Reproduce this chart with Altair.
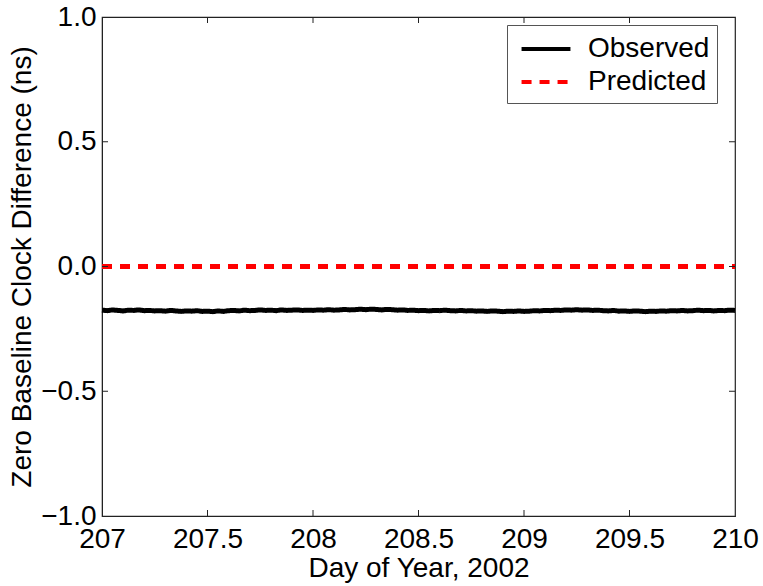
import altair as alt
import pandas as pd

# ---- data ----
day_start = 207.0
day_step = 0.025
observed_ns = [
    -0.175, -0.177, -0.174, -0.176, -0.178, -0.175, -0.176, -0.174, -0.177, -0.176,
    -0.178, -0.177, -0.179, -0.176, -0.178, -0.180, -0.178, -0.179, -0.177, -0.180,
    -0.179, -0.181, -0.178, -0.180, -0.177, -0.176, -0.178, -0.175, -0.177, -0.176,
    -0.174, -0.176, -0.175, -0.177, -0.174, -0.176, -0.175, -0.174, -0.176, -0.175,
    -0.176, -0.174, -0.175, -0.173, -0.175, -0.174, -0.172, -0.174, -0.173, -0.171,
    -0.173, -0.171, -0.172, -0.174, -0.172, -0.173, -0.175, -0.174, -0.176, -0.175,
    -0.177, -0.176, -0.178, -0.176, -0.177, -0.175, -0.177, -0.178, -0.176, -0.178,
    -0.177, -0.179, -0.178, -0.180, -0.178, -0.179, -0.181, -0.179, -0.180, -0.178,
    -0.180, -0.179, -0.177, -0.178, -0.176, -0.177, -0.175, -0.176, -0.174, -0.175,
    -0.173, -0.175, -0.174, -0.176, -0.175, -0.177, -0.178, -0.176, -0.179, -0.178,
    -0.180, -0.178, -0.179, -0.181, -0.179, -0.180, -0.178, -0.179, -0.177, -0.178,
    -0.176, -0.178, -0.177, -0.175, -0.177, -0.176, -0.178, -0.176, -0.177, -0.175,
    -0.176,
]
observed_days = [round(day_start + i * day_step, 3) for i in range(len(observed_ns))]
predicted_days = [207.0, 210.0]
predicted_ns = [0.0, 0.0]
series_names = ["Observed", "Predicted"]
x_ticks = [207, 207.5, 208, 208.5, 209, 209.5, 210]
y_ticks = [-1.0, -0.5, 0.0, 0.5, 1.0]
x_inner_ticks = [207.5, 208, 208.5, 209, 209.5]
y_inner_ticks = [-0.5, 0.0, 0.5]

df = pd.concat([
    pd.DataFrame({"day": observed_days, "value": observed_ns, "series": "Observed"}),
    pd.DataFrame({"day": predicted_days, "value": predicted_ns, "series": "Predicted"}),
])
xt = pd.DataFrame({"day": x_inner_ticks})
yt = pd.DataFrame({"value": y_inner_ticks})

W, H = 633, 499
FONT = "Liberation Sans"
FS = 28

xscale = alt.Scale(domain=[207, 210], nice=False, zero=False)
yscale = alt.Scale(domain=[-1, 1], nice=False, zero=False)


def make_legend():
    return alt.Legend(orient="none", legendX=405, legendY=8,
                      symbolType="M-1.63,0L1.63,0", symbolSize=900,
                      symbolStrokeWidth=4, labelFontSize=FS,
                      labelFont=FONT, labelOffset=25, symbolOffset=15,
                      rowPadding=2, padding=7,
                      strokeColor="#555", fillColor="white",
                      labelColor="black")


lines = alt.Chart(df).mark_line(strokeWidth=5).encode(
    x=alt.X("day:Q", scale=xscale, title="Day of Year, 2002",
            axis=alt.Axis(values=x_ticks, format="~f", tickSize=0, labelFlush=False,
                          labelOverlap=False, labelPadding=9, titlePadding=1,
                          grid=False, domainColor="#222")),
    y=alt.Y("value:Q", scale=yscale, title="Zero Baseline Clock Difference (ns)",
            axis=alt.Axis(values=y_ticks, format=".1f", tickSize=0, labelFlush=False,
                          labelOverlap=False, labelPadding=6, titlePadding=4,
                          grid=False, domainColor="#222")),
    color=alt.Color("series:N", title=None,
                    scale=alt.Scale(domain=series_names, range=["#000000", "#ff0000"]),
                    legend=make_legend()),
    strokeDash=alt.StrokeDash("series:N", title=None,
                              scale=alt.Scale(domain=series_names, range=[[1, 0], [10, 8]]),
                              legend=make_legend()),
)

tick_len = 6
xticks_bottom = alt.Chart(xt).mark_rule(color="#222", strokeWidth=1).encode(
    x=alt.X("day:Q", scale=xscale), y=alt.value(H), y2=alt.value(H - tick_len))
xticks_top = alt.Chart(xt).mark_rule(color="#222", strokeWidth=1).encode(
    x=alt.X("day:Q", scale=xscale), y=alt.value(0), y2=alt.value(tick_len))
yticks_left = alt.Chart(yt).mark_rule(color="#222", strokeWidth=1).encode(
    y=alt.Y("value:Q", scale=yscale), x=alt.value(0), x2=alt.value(tick_len))
yticks_right = alt.Chart(yt).mark_rule(color="#222", strokeWidth=1).encode(
    y=alt.Y("value:Q", scale=yscale), x=alt.value(W), x2=alt.value(W - tick_len))

chart = alt.layer(lines, xticks_bottom, xticks_top, yticks_left, yticks_right).properties(
    width=W, height=H,
    autosize=alt.AutoSizeParams(type="none"),
    padding={"left": 102, "top": 17, "right": 28, "bottom": 70},
).configure(
    background="white",
).configure_view(
    stroke="#222", strokeWidth=1.2,
).configure_axis(
    labelFont=FONT, titleFont=FONT, labelFontSize=FS, titleFontSize=FS,
    labelColor="black", titleColor="black", titleFontWeight="normal",
)

chart.save("out.html", embed_options={"renderer": "svg", "actions": False})
